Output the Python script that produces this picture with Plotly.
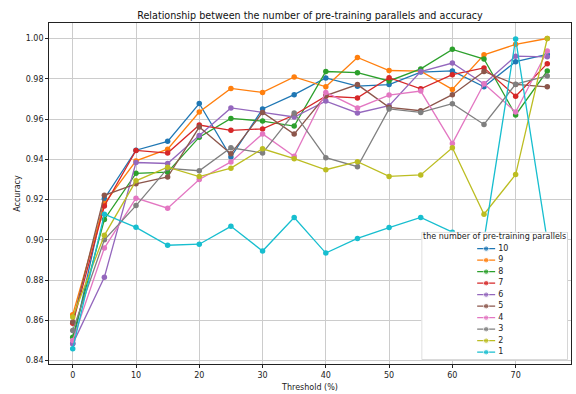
import plotly.graph_objects as go

thresholds = [0, 5, 10, 15, 20, 25, 30, 35, 40, 45, 50, 55, 60, 65, 70, 75]

series_names = ["10", "9", "8", "7", "6", "5", "4", "3", "2", "1"]

acc_10 = [0.8485, 0.9204, 0.9445, 0.9489, 0.9677, 0.9411, 0.9650, 0.9721, 0.9804, 0.9763, 0.9771, 0.9833, 0.9839, 0.9760, 0.9885, 0.9921]
acc_9 = [0.8628, 0.9180, 0.9392, 0.9450, 0.9635, 0.9752, 0.9732, 0.9809, 0.9760, 0.9906, 0.9841, 0.9838, 0.9747, 0.9919, 0.9971, 1.0000]
acc_8 = [0.8516, 0.9101, 0.9330, 0.9336, 0.9510, 0.9603, 0.9590, 0.9565, 0.9836, 0.9830, 0.9789, 0.9849, 0.9946, 0.9898, 0.9620, 0.9839]
acc_7 = [0.8585, 0.9168, 0.9444, 0.9431, 0.9570, 0.9544, 0.9551, 0.9620, 0.9713, 0.9705, 0.9805, 0.9750, 0.9820, 0.9854, 0.9713, 0.9875]
acc_6 = [0.8483, 0.8814, 0.9384, 0.9379, 0.9518, 0.9655, 0.9633, 0.9610, 0.9689, 0.9630, 0.9666, 0.9836, 0.9878, 0.9774, 0.9912, 0.9909]
acc_5 = [0.8592, 0.9221, 0.9278, 0.9312, 0.9560, 0.9427, 0.9633, 0.9525, 0.9716, 0.9771, 0.9658, 0.9641, 0.9721, 0.9836, 0.9772, 0.9760]
acc_4 = [0.8500, 0.8959, 0.9207, 0.9157, 0.9300, 0.9387, 0.9526, 0.9415, 0.9732, 0.9655, 0.9719, 0.9739, 0.9479, 0.9775, 0.9635, 0.9938]
acc_3 = [0.8550, 0.9000, 0.9170, 0.9355, 0.9343, 0.9457, 0.9431, 0.9630, 0.9408, 0.9363, 0.9650, 0.9633, 0.9676, 0.9573, 0.9773, 0.9814]
acc_2 = [0.8617, 0.9022, 0.9293, 0.9361, 0.9314, 0.9356, 0.9452, 0.9403, 0.9348, 0.9388, 0.9315, 0.9322, 0.9457, 0.9127, 0.9324, 1.0000]
acc_1 = [0.8459, 0.9127, 0.9062, 0.8973, 0.8978, 0.9067, 0.8944, 0.9111, 0.8934, 0.9007, 0.9061, 0.9111, 0.9038, 0.8998, 0.9998, 0.8995]

all_series = [acc_10, acc_9, acc_8, acc_7, acc_6, acc_5, acc_4, acc_3, acc_2, acc_1]
colors = ["#1f77b4", "#ff7f0e", "#2ca02c", "#d62728", "#9467bd",
          "#8c564b", "#e377c2", "#7f7f7f", "#bcbd22", "#17becf"]

x_ticks = [0, 10, 20, 30, 40, 50, 60, 70]
y_ticks = [0.84, 0.86, 0.88, 0.90, 0.92, 0.94, 0.96, 0.98, 1.00]

title_text = "Relationship between the number of pre-training parallels and accuracy"
legend_title = "the number of pre-training parallels"
FONT = "DejaVu Sans"

fig = go.Figure()

for name, vals, col in zip(series_names, all_series, colors):
    fig.add_trace(go.Scatter(
        x=thresholds, y=vals, mode="lines+markers", name=name,
        line=dict(color=col, width=1.3),
        marker=dict(color=col, size=5.5),
        showlegend=False, hoverinfo="skip",
    ))

# ---- legend drawn in a small overlay subplot (units ~ pixels inside the box) ----
LW, LH = 147, 131
fig.add_trace(go.Scatter(
    x=[0.5, LW - 0.5, LW - 0.5, 0.5, 0.5], y=[0.5, 0.5, LH - 0.5, LH - 0.5, 0.5],
    mode="lines", fill="toself", fillcolor="rgba(255,255,255,0.8)",
    line=dict(color="#cccccc", width=0.8),
    xaxis="x2", yaxis="y2", showlegend=False, hoverinfo="skip",
))
for k, (name, col) in enumerate(zip(series_names, colors)):
    yk = 113.7 - 11.74 * k
    fig.add_trace(go.Scatter(
        x=[56, 65, 74], y=[yk, yk, yk], mode="lines+markers",
        line=dict(color=col, width=1.3),
        marker=dict(color=col, size=[0, 5.5, 0]),
        xaxis="x2", yaxis="y2", showlegend=False, hoverinfo="skip",
    ))
    fig.add_trace(go.Scatter(
        x=[77], y=[yk], mode="text", text=[name], textposition="middle right",
        textfont=dict(family=FONT, size=8, color="#222222"), cliponaxis=False,
        xaxis="x2", yaxis="y2", showlegend=False, hoverinfo="skip",
    ))
fig.add_trace(go.Scatter(
    x=[LW / 2], y=[125.3], mode="text", text=[legend_title], textposition="middle center",
    textfont=dict(family=FONT, size=8, color="#222222"), cliponaxis=False,
    xaxis="x2", yaxis="y2", showlegend=False, hoverinfo="skip",
))

axis_common = dict(
    showline=True, linecolor="#222222", linewidth=0.8, mirror=True,
    showgrid=True, gridcolor="#cccccc", gridwidth=0.7,
    ticks="outside", ticklen=3, tickwidth=0.8, tickcolor="#222222",
    tickfont=dict(family=FONT, size=8, color="#222222"),
    zeroline=False,
)

fig.update_layout(
    width=576, height=394,
    margin=dict(l=49, r=4, t=23, b=23),
    paper_bgcolor="white", plot_bgcolor="white",
    font=dict(family=FONT, size=8, color="#222222"),
    title=dict(text=title_text, x=0.5, xref="paper", xanchor="center",
               y=1 - 16 / 394, yref="container", yanchor="middle",
               font=dict(family=FONT, size=9.6, color="#111111")),
    xaxis=dict(range=[-3.75, 78.75], tickvals=x_ticks,
               title=dict(text="Threshold (%)", standoff=5,
                          font=dict(family=FONT, size=8, color="#222222")),
               **axis_common),
    yaxis=dict(range=[0.8383, 1.0077], tickvals=y_ticks, tickformat=".2f",
               title=dict(text="Accuracy", standoff=3,
                          font=dict(family=FONT, size=8, color="#222222")),
               **axis_common),
    xaxis2=dict(domain=[(422 - 49) / 523, (569 - 49) / 523], range=[0, LW],
                anchor="y2", visible=False, fixedrange=True),
    yaxis2=dict(domain=[(371 - 367) / 348, (371 - 236) / 348], range=[0, LH],
                anchor="x2", visible=False, fixedrange=True),
    showlegend=False,
)

fig.write_html("out.html")
